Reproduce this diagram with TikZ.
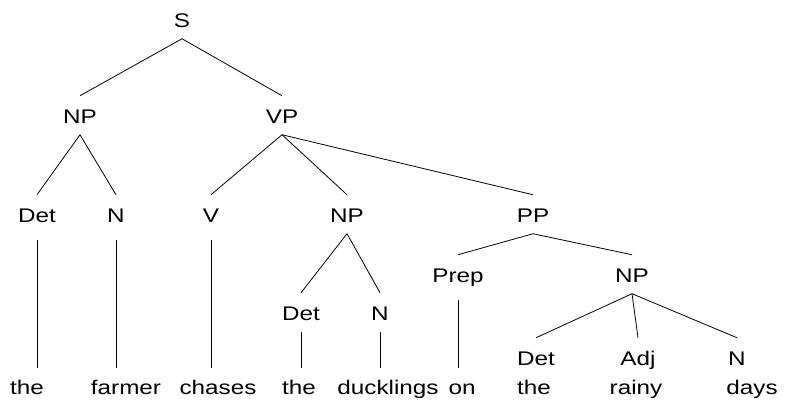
\documentclass[tikz,border=0pt]{standalone}
\usepackage{fontspec}
\newfontfamily\treefont[FakeStretch=1.23]{Liberation Sans}

\begin{document}
\begin{tikzpicture}[x=0.75pt,y=-0.75pt,
                    cat_node/.style ={inner sep=0pt, anchor=base,
                        text height=20.25pt, text depth=8.6pt,
                        font=\treefont\fontsize{14.8}{17}\selectfont},
                    word_node/.style ={cat_node, text height=19.5pt},
                    line/.style ={draw, line width=0.6pt}]
    \tikzstyle{leaf} = [line, shorten <=4.5pt]

    \useasboundingbox (0,0) rectangle (788,407);

    % sentence and phrases
    \node [cat_node] (s) at (182,27) {S};
    \node [cat_node] (np_subj) at (80,123) {NP};
    \node [cat_node] (vp) at (282,123) {VP};
    % row 3
    \node [cat_node] (det_subj) at (37,222) {Det};
    \node [cat_node] (n_subj) at (116,222) {N};
    \node [cat_node] (v) at (211,222) {V};
    \node [cat_node] (np_obj) at (347,222) {NP};
    \node [cat_node] (pp) at (533,222) {PP};
    % row 4
    \node [cat_node] (prep) at (458,282) {Prep};
    \node [cat_node] (np_pp) at (632,282) {NP};
    \node [cat_node] (det_obj) at (301,320) {Det};
    \node [cat_node] (n_obj) at (380,320) {N};
    % row 5
    \node [cat_node] (det_pp) at (536,365) {Det};
    \node [cat_node] (adj_pp) at (638,365) {Adj};
    \node [cat_node] (n_pp) at (737,365) {N};
    % words
    \node [word_node] (w_the1) at (27,394) {the};
    \node [word_node] (w_farmer) at (126,394) {farmer};
    \node [word_node] (w_chases) at (218,394) {chases};
    \node [word_node] (w_the2) at (299,394) {the};
    \node [word_node] (w_ducklings) at (388,394) {ducklings};
    \node [word_node] (w_on) at (462,394) {on};
    \node [word_node] (w_the3) at (534,394) {the};
    \node [word_node] (w_rainy) at (636,394) {rainy};
    \node [word_node] (w_days) at (752,394) {days};

    % branches
    \begin{scope}[every path/.style=line]
        \path (s.south) -- (np_subj.north);
        \path (s.south) -- (vp.north);
        \path (np_subj.south) -- (det_subj.north);
        \path (np_subj.south) -- (n_subj.north);
        \path (vp.south) -- (v.north);
        \path (vp.south) -- (np_obj.north);
        \path (vp.south) -- (pp.north);
        \path (np_obj.south) -- (det_obj.north);
        \path (np_obj.south) -- (n_obj.north);
        \path (pp.south) -- (prep.north);
        \path (pp.south) -- (np_pp.north);
        \path (np_pp.south) -- (det_pp.north);
        \path (np_pp.south) -- (adj_pp.north);
        \path (np_pp.south) -- (n_pp.north);
        % down to the words
        \path [leaf] (det_subj.south) -- (det_subj.south |- w_the1.north);
        \path [leaf] (n_subj.south) -- (n_subj.south |- w_farmer.north);
        \path [leaf] (v.south) -- (v.south |- w_chases.north);
        \path [leaf] (prep.south) -- (prep.south |- w_on.north);
        \path (det_obj.south) -- (det_obj.south |- w_the2.north);
        \path (n_obj.south) -- (n_obj.south |- w_ducklings.north);
    \end{scope}
\end{tikzpicture}
\end{document}
